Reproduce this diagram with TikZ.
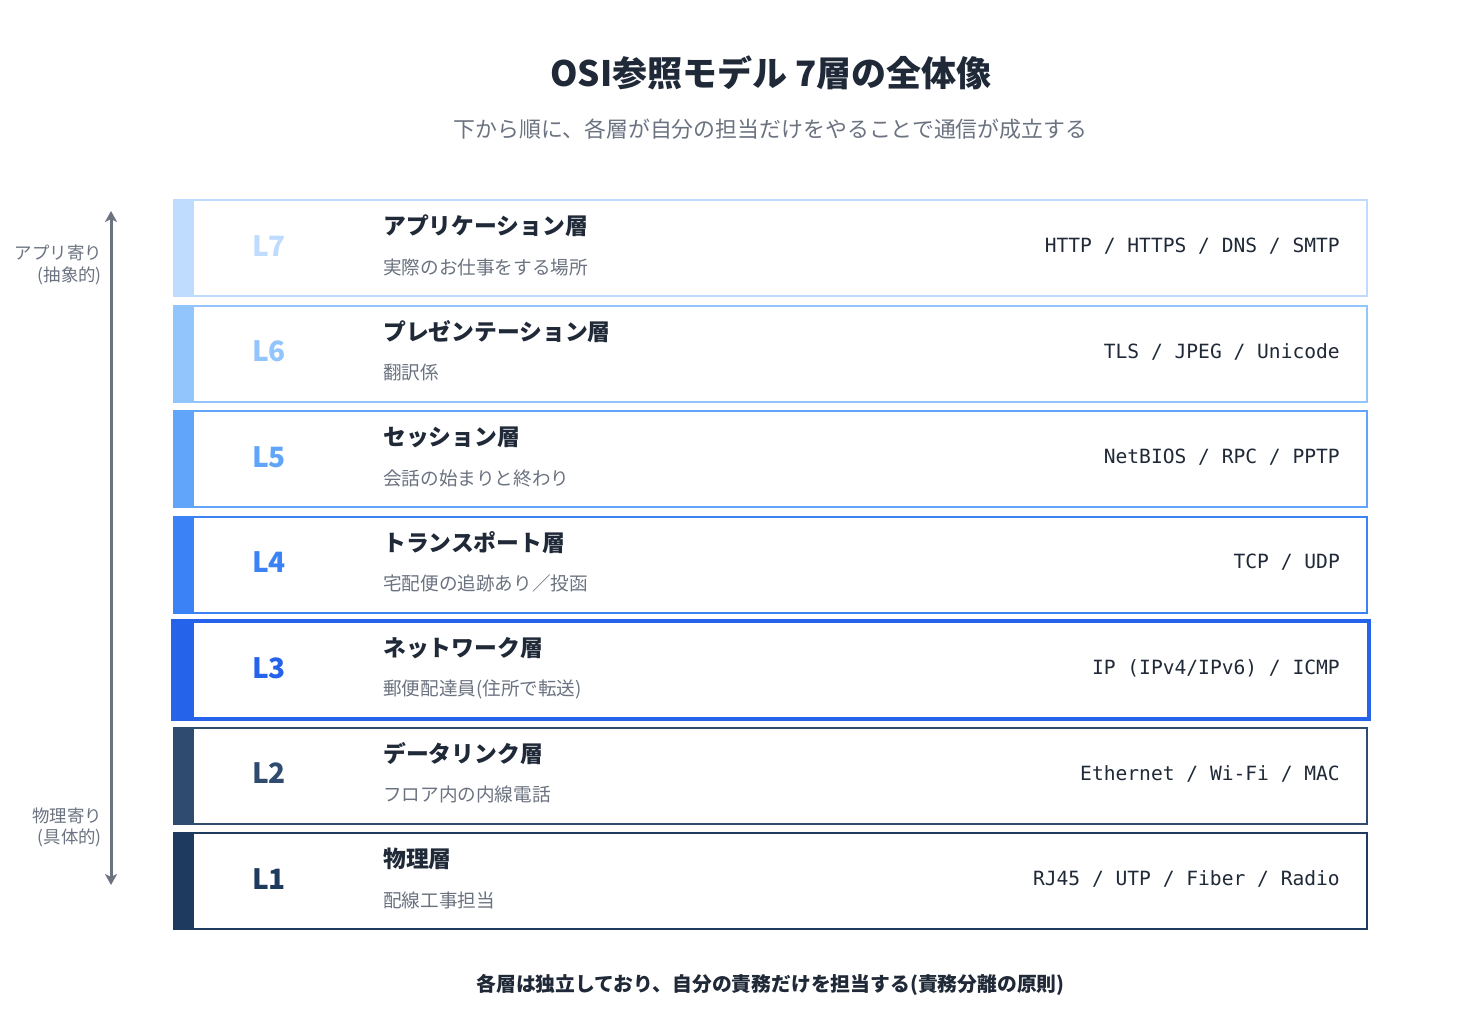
\documentclass[tikz,border=0pt]{standalone}
\usepackage{fontspec}
\setmainfont{Noto Sans CJK JP}
\newfontfamily\monof{DejaVu Sans Mono}
\usetikzlibrary{arrows.meta}
\definecolor{cL7}{HTML}{BFDBFE}
\definecolor{cL6}{HTML}{93C5FD}
\definecolor{cL5}{HTML}{60A5FA}
\definecolor{cL4}{HTML}{3B82F6}
\definecolor{cL3}{HTML}{2563EB}
\definecolor{cL2}{HTML}{2F4B70}
\definecolor{cL1}{HTML}{1E3A5F}
\definecolor{ink}{HTML}{1F2937}
\definecolor{mute}{HTML}{6B7280}
\tikzset{
  rowbox/.style={rectangle, line width=2pt, minimum width=1193pt, minimum height=96pt, inner sep=0pt, fill=white},
  barbox/.style={rectangle, minimum width=21pt, minimum height=98pt, inner sep=0pt},
  lnum/.style={font=\bfseries\fontsize{28}{31}\selectfont, inner sep=0pt, anchor=center},
  ltitle/.style={font=\bfseries\fontsize{22.8}{27}\selectfont, text=ink, inner sep=0pt, anchor=west},
  lsub/.style={font=\fontsize{18.6}{22}\selectfont, text=mute, inner sep=0pt, anchor=west},
  lproto/.style={font=\monof\fontsize{19.6}{23}\selectfont, text=ink, inner sep=0pt, anchor=east},
  sidelbl/.style={font=\fontsize{17.4}{20}\selectfont, text=mute, inner sep=0pt, anchor=east},
}
\newcommand\osirow[8]{%
  \node[rowbox, draw=#3, #8] (#1) at (770.5,#2+49) {};
  \node[barbox, fill=#3] (#1bar) at (183.5,#2+49) {};
  \node[lnum, text=#3] (#1num) at (269,#2+47) {#4};
  \node[ltitle] (#1title) at (383,#2+27) {#5};
  \node[lsub] (#1sub) at (383,#2+68) {#6};
  \node[lproto] (#1proto) at (1340,#2+47) {#7};
}
\begin{document}
\begin{tikzpicture}[x=1pt,y=-1pt]
\useasboundingbox[fill=white] (0,0) rectangle (1480,1035);
\node[font=\bfseries\fontsize{35}{41}\selectfont, text=ink, inner sep=0pt] (title) at (771,73) {OSI参照モデル 7層の全体像};
\node[font=\fontsize{21.9}{26}\selectfont, text=mute, inner sep=0pt] (subtitle) at (770.5,129) {下から順に、各層が自分の担当だけをやることで通信が成立する};

\osirow{r7}{199}{cL7}{L7}{アプリケーション層}{実際のお仕事をする場所}{HTTP / HTTPS / DNS / SMTP}{}
\osirow{r6}{304.5}{cL6}{L6}{プレゼンテーション層}{翻訳係}{TLS / JPEG / Unicode}{}
\osirow{r5}{410}{cL5}{L5}{セッション層}{会話の始まりと終わり}{NetBIOS / RPC / PPTP}{}
\osirow{r4}{515.5}{cL4}{L4}{トランスポート層}{宅配便の追跡あり／投函}{TCP / UDP}{}
\osirow{r3}{621}{cL3}{L3}{ネットワーク層}{郵便配達員(住所で転送)}{IP (IPv4/IPv6) / ICMP}{line width=4pt, minimum width=1196pt, minimum height=98pt}
\osirow{r2}{726.5}{cL2}{L2}{データリンク層}{フロア内の内線電話}{Ethernet / Wi-Fi / MAC}{}
\osirow{r1}{832}{cL1}{L1}{物理層}{配線工事担当}{RJ45 / UTP / Fiber / Radio}{}
\node[barbox, fill=cL3, minimum width=23pt, minimum height=102pt] (r3barx) at (182.5,670) {};

\coordinate (atop) at (111,211);
\coordinate (abot) at (111,885);
\draw[mute, line width=3pt, {Stealth[length=11pt,width=12pt,inset=3pt]}-{Stealth[length=11pt,width=12pt,inset=3pt]}] (abot) -- (atop);
\node[sidelbl] (up1) at (102,253) {アプリ寄り};
\node[sidelbl] (up2) at (102,276) {(抽象的)};
\node[sidelbl] (dn1) at (102,816) {物理寄り};
\node[sidelbl] (dn2) at (102,838) {(具体的)};

\node[font=\bfseries\fontsize{19.8}{24}\selectfont, text=ink, inner sep=0pt] (note) at (770.5,985) {各層は独立しており、自分の責務だけを担当する(責務分離の原則)};
\end{tikzpicture}
\end{document}
